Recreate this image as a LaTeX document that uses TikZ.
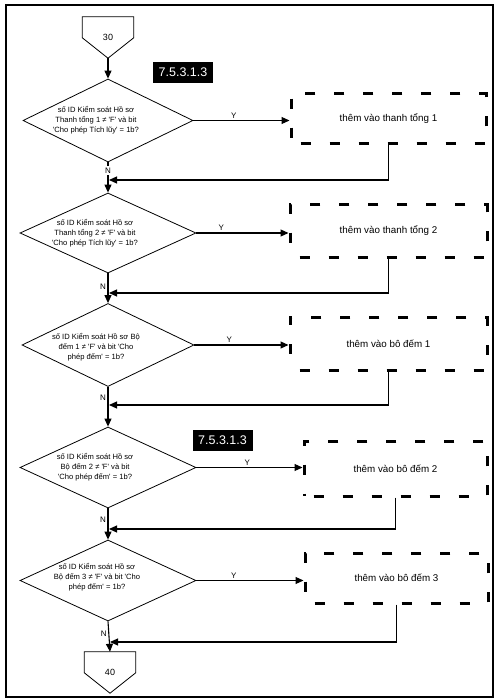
\documentclass[tikz,border=0pt]{standalone}
\usepackage{fontspec}
\setmainfont{Liberation Sans}
\usetikzlibrary{arrows.meta,shapes.geometric}
\newcommand{\sqt}[1]{\textquotesingle#1\textquotesingle}
\tikzset{
  >={Triangle[length=8pt,width=7pt]},
  flow/.style={->, line width=1.1pt},
  decision/.style={draw, diamond, line width=0.8pt, inner sep=0pt},
  qtext/.style={font=\fontsize{7.6}{10}\selectfont, align=center, inner sep=0pt},
  action/.style={draw, line width=3pt, dash pattern=on 10pt off 19pt,
                 dash phase=19.3pt, font=\fontsize{9.8}{12}\selectfont, inner sep=0pt},
  offpage/.style={minimum width=51pt, minimum height=41pt, inner sep=0pt,
                  font=\fontsize{9}{11}\selectfont},
  tag/.style={fill=black, text=white, font=\fontsize{12.5}{14}\selectfont,
              minimum width=60pt, minimum height=21pt, inner sep=0pt},
  branch/.style={font=\fontsize{8}{9}\selectfont, inner sep=1.5pt}
}

\begin{document}
\begin{tikzpicture}[x=1pt,y=-1pt]
\useasboundingbox (0,0) rectangle (502,700);
\draw[line width=1.4pt] (6,5) rectangle (493,697);

% ------------------------------------------------------------
% OFF-PAGE CONNECTORS
% ------------------------------------------------------------
\node[offpage] (c30) at (108,37.5) {30};
\node[offpage] (c40) at (110,672.5) {40};
\foreach \c in {c30,c40}
  \draw[line width=0.8pt] (\c.north west) -- (\c.north east)
    -- ([yshift=-21pt]\c.north east) -- (\c.south)
    -- ([yshift=-21pt]\c.north west) -- cycle;

% ------------------------------------------------------------
% DECISIONS
% ------------------------------------------------------------
\node[decision, minimum width=170pt, minimum height=83pt] (d1) at (108,120.5) {};
\node[qtext] (q1) at (96,120)
{số ID Kiểm soát Hồ sơ\\Thanh tổng 1 ≠ \sqt{F} và bit\\\sqt{Cho phép Tích lũy} = 1b?};

\node[decision, minimum width=176pt, minimum height=80pt] (d2) at (108,233) {};
\node[qtext] (q2) at (95,233)
{số ID Kiểm soát Hồ sơ\\Thanh tổng 2 ≠ \sqt{F} và bit\\\sqt{Cho phép Tích lũy} = 1b?};

\node[decision, minimum width=172pt, minimum height=83pt] (d3) at (108,345) {};
\node[qtext] (q3) at (96,347)
{số ID Kiểm soát Hồ sơ Bộ\\đếm 1 ≠ \sqt{F} và bit \textquotesingle Cho\\phép đếm\textquotesingle{} = 1b?};

\node[decision, minimum width=176pt, minimum height=81pt] (d4) at (108,467.5) {};
\node[qtext] (q4) at (95,467)
{số ID Kiểm soát Hồ sơ\\Bộ đếm 2 ≠ \sqt{F} và bit\\\sqt{Cho phép đếm} = 1b?};

\node[decision, minimum width=176pt, minimum height=81pt] (d5) at (108,580.5) {};
\node[qtext] (q5) at (97,577)
{số ID Kiểm soát Hồ sơ\\Bộ đếm 3 ≠ \sqt{F} và bit \textquotesingle Cho\\phép đếm\textquotesingle{} = 1b?};

% ------------------------------------------------------------
% ACTIONS
% ------------------------------------------------------------
\node[action, minimum width=195pt, minimum height=50pt] (b1) at (388.5,119) {thêm vào thanh tổng 1};
\node[action, minimum width=197pt, minimum height=52pt] (b2) at (388.5,231) {thêm vào thanh tổng 2};
\node[action, minimum width=197pt, minimum height=53pt] (b3) at (388.5,344) {thêm vào bô đếm 1};
\node[action, minimum width=183pt, minimum height=55pt] (b4) at (395.5,468.5) {thêm vào bô đếm 2};
\node[action, minimum width=183pt, minimum height=50pt] (b5) at (396.5,578) {thêm vào bô đếm 3};

% section tags
\node[tag] (t1) at (183,72.5) {7.5.3.1.3};
\node[tag] (t2) at (222.5,440.5) {7.5.3.1.3};

% ------------------------------------------------------------
% CONNECTORS
% ------------------------------------------------------------
\coordinate (j1) at (109,180);
\coordinate (j2) at (109,293);
\coordinate (j3) at (109,405);
\coordinate (j4) at (109,529);
\coordinate (j5) at (110,642);

\draw[flow] (c30.south) -- (d1.north);
\draw[flow] (d1.south) -- node[branch, fill=white, pos=0.27] (n1) {N} (d2.north);
\draw[flow] (d2.south) -- node[branch, left, pos=0.46] (n2) {N} (d3.north);
\draw[flow] (d3.south) -- node[branch, left, pos=0.28] (n3) {N} (d4.north);
\draw[flow] (d4.south) -- node[branch, left, pos=0.37] (n4) {N} (d5.north);
\draw[flow] (d5.south) -- node[branch, left, pos=0.39] (n5) {N} (c40.north);

\draw[flow] (d1.east) -- node[branch, above, pos=0.42] (y1) {Y} (d1.east -| b1.west);
\draw[flow] (d2.east) -- node[branch, above, pos=0.27] (y2) {Y} (d2.east -| b2.west);
\draw[flow] (d3.east) -- node[branch, above, pos=0.37] (y3) {Y} (d3.east -| b3.west);
\draw[flow] (d4.east) -- node[branch, above, pos=0.48] (y4) {Y} (d4.east -| b4.west);
\draw[flow] (d5.east) -- node[branch, above, pos=0.35] (y5) {Y} (d5.east -| b5.west);

\draw[flow] (b1.south) |- (j1);
\draw[flow] (b2.south) |- (j2);
\draw[flow] (b3.south) |- (j3);
\draw[flow] (b4.south) |- (j4);
\draw[flow] (b5.south) |- (j5);

\end{tikzpicture}
\end{document}
